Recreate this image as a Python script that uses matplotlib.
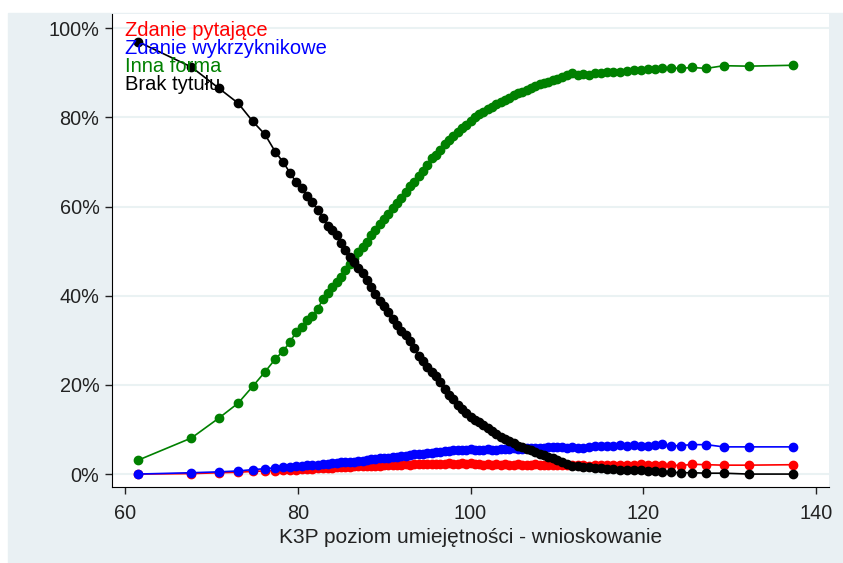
import matplotlib.pyplot as plt
from matplotlib.patches import Rectangle

# K3P score points
x = [61.5, 67.7, 70.9, 73.1, 74.8, 76.2, 77.4, 78.3, 79.1, 79.8,
     80.5, 81.1, 81.7, 82.3, 82.9, 83.5, 84.0, 84.5, 85.0, 85.5,
     86.0, 86.5, 87.0, 87.5, 88.0, 88.5, 89.0, 89.5, 90.0, 90.5,
     91.0, 91.5, 92.0, 92.5, 93.0, 93.5, 94.0, 94.5, 95.0, 95.5,
     96.0, 96.5, 97.0, 97.5, 98.0, 98.5, 99.0, 99.5, 100.0, 100.5,
     101.0, 101.5, 102.0, 102.5, 103.0, 103.5, 104.0, 104.5, 105.0, 105.5,
     106.0, 106.5, 107.0, 107.5, 108.0, 108.5, 109.0, 109.5, 110.0, 110.6,
     111.2, 111.8, 112.4, 113.0, 113.7, 114.4, 115.1, 115.8, 116.5, 117.3,
     118.1, 118.9, 119.7, 120.5, 121.3, 122.2, 123.2, 124.4, 125.6, 127.3,
     129.3, 132.2, 137.3]

pytajace = [0.0, 0.1, 0.3, 0.4, 0.6, 0.7, 0.8, 0.9, 1.0, 1.0,
            1.1, 1.1, 1.2, 1.3, 1.3, 1.4, 1.4, 1.5, 1.5, 1.6,
            1.6, 1.7, 1.8, 1.7, 1.8, 1.9, 1.9, 1.9, 2.0, 2.0,
            2.1, 2.0, 2.1, 2.2, 2.1, 2.2, 2.2, 2.3, 2.2, 2.3,
            2.3, 2.2, 2.3, 2.4, 2.3, 2.3, 2.4, 2.3, 2.4, 2.3,
            2.2, 2.1, 2.2, 2.1, 2.2, 2.1, 2.2, 2.0, 2.1, 2.2,
            2.1, 2.0, 2.1, 2.2, 2.1, 2.0, 2.1, 2.0, 2.1, 2.0,
            2.1, 2.0, 2.1, 2.0, 1.9, 2.0, 2.1, 2.0, 2.1, 2.0,
            2.1, 2.0, 2.2, 2.1, 2.0, 2.1, 2.0, 1.9, 2.2, 2.1,
            2.0, 2.0, 2.1]

wykrzyknikowe = [0.0, 0.3, 0.5, 0.7, 1.0, 1.2, 1.4, 1.5, 1.6, 1.8,
                 1.9, 2.0, 2.1, 2.1, 2.2, 2.3, 2.4, 2.5, 2.6, 2.7,
                 2.8, 2.8, 2.9, 3.0, 3.1, 3.3, 3.3, 3.5, 3.6, 3.6,
                 3.8, 3.9, 4.0, 4.1, 4.2, 4.4, 4.5, 4.6, 4.7, 4.8,
                 5.0, 5.0, 5.1, 5.2, 5.3, 5.3, 5.4, 5.5, 5.6, 5.5,
                 5.3, 5.4, 5.6, 5.5, 5.5, 5.6, 5.7, 5.7, 5.8, 5.7,
                 5.6, 5.8, 5.9, 5.8, 5.8, 5.9, 6.0, 6.0, 6.1, 6.0,
                 5.9, 6.0, 5.8, 5.9, 6.1, 6.2, 6.4, 6.3, 6.4, 6.5,
                 6.4, 6.5, 6.3, 6.4, 6.5, 6.8, 6.3, 6.4, 6.6, 6.6,
                 6.1, 6.1, 6.1]

inna_forma = [3.1, 8.1, 12.6, 15.9, 19.7, 22.9, 25.8, 27.6, 29.6, 31.8,
              33.0, 34.5, 35.4, 37.0, 39.2, 40.6, 41.9, 43.0, 44.2, 45.7,
              47.1, 48.4, 49.8, 50.9, 52.1, 53.6, 54.8, 56.0, 57.3, 58.4,
              59.7, 60.9, 61.9, 63.2, 64.6, 65.6, 66.9, 68.0, 69.4, 70.9,
              71.5, 72.6, 74.0, 75.0, 75.9, 76.7, 77.6, 78.4, 79.2, 80.0,
              80.7, 81.2, 81.8, 82.4, 83.0, 83.4, 83.9, 84.4, 85.0, 85.4,
              85.8, 86.1, 86.5, 87.0, 87.4, 87.7, 88.0, 88.3, 88.7, 89.0,
              89.6, 89.9, 89.5, 89.7, 89.5, 89.9, 90.0, 90.1, 90.3, 90.3,
              90.5, 90.7, 90.6, 90.8, 90.8, 91.0, 91.1, 91.0, 91.2, 91.0,
              91.6, 91.5, 91.7]

brak_tytulu = [97.0, 91.3, 86.5, 83.2, 79.1, 76.2, 72.3, 70.0, 67.6, 65.5,
               64.2, 62.3, 61.0, 59.3, 57.5, 55.6, 54.7, 53.6, 51.9, 50.2,
               48.7, 47.6, 46.3, 45.0, 43.5, 41.9, 40.3, 38.9, 37.8, 36.3,
               34.8, 33.4, 32.0, 31.1, 29.8, 28.3, 26.5, 25.4, 24.1, 22.8,
               21.9, 20.7, 19.0, 17.7, 16.8, 15.6, 14.6, 13.6, 12.8, 12.1,
               11.6, 11.0, 10.3, 9.6, 9.0, 8.4, 7.9, 7.4, 6.9, 6.4,
               6.0, 5.7, 5.4, 5.0, 4.6, 4.3, 3.9, 3.5, 3.1, 2.6,
               2.2, 1.9, 1.7, 1.6, 1.5, 1.4, 1.3, 1.2, 1.1, 1.0,
               1.0, 0.9, 0.9, 0.7, 0.6, 0.4, 0.4, 0.3, 0.3, 0.2,
               0.2, 0.0, 0.0]

labels = ['Zdanie pytające', 'Zdanie wykrzyknikowe', 'Inna forma', 'Brak tytułu']
colors = ['red', 'blue', 'green', 'black']
series = [pytajace, wykrzyknikowe, inna_forma, brak_tytulu]

plt.rcParams['font.family'] = ['Liberation Sans', 'DejaVu Sans']

fig = plt.figure(figsize=(8.43, 5.63), dpi=100)
# light Stata-like background behind the plot region
bg = Rectangle((8 / 843, 0), 1, 1 - 13 / 563, transform=fig.transFigure,
               color='#e9f0f3', zorder=-10)
fig.add_artist(bg)
ax = fig.add_axes([112 / 843, 1 - 487 / 563, (829 - 112) / 843, (487 - 14) / 563])
ax.set_zorder(1)

for ys, c in zip(series, colors):
    ax.plot(x, ys, color=c, lw=1.2, marker='o', ms=6, mec=c, mfc=c)

ax.set_xlim(58.5, 141.5)
ax.set_ylim(-2.9, 103.2)
ax.set_xticks([60, 80, 100, 120, 140])
ax.set_yticks([0, 20, 40, 60, 80, 100])
ax.set_yticklabels([f'{v}%' for v in [0, 20, 40, 60, 80, 100]])
ax.grid(axis='y', color='#eaf2f3', lw=1.5)
ax.set_axisbelow(True)
for s in ['top', 'right']:
    ax.spines[s].set_visible(False)
ax.tick_params(direction='out', length=5, width=1, labelsize=14.3, colors='#222222', pad=4)
ax.tick_params(axis='x', pad=7)
ax.set_xlabel('K3P poziom umiejętności - wnioskowanie', fontsize=15, color='#222222', labelpad=4)

for i, (lab, c) in enumerate(zip(labels, colors)):
    ax.text(125 / 843, 1 - (30 + 18 * i) / 563, lab, color=c, fontsize=14.5,
            va='center', ha='left', transform=fig.transFigure, zorder=5)

fig.savefig('out.png', dpi=100)
